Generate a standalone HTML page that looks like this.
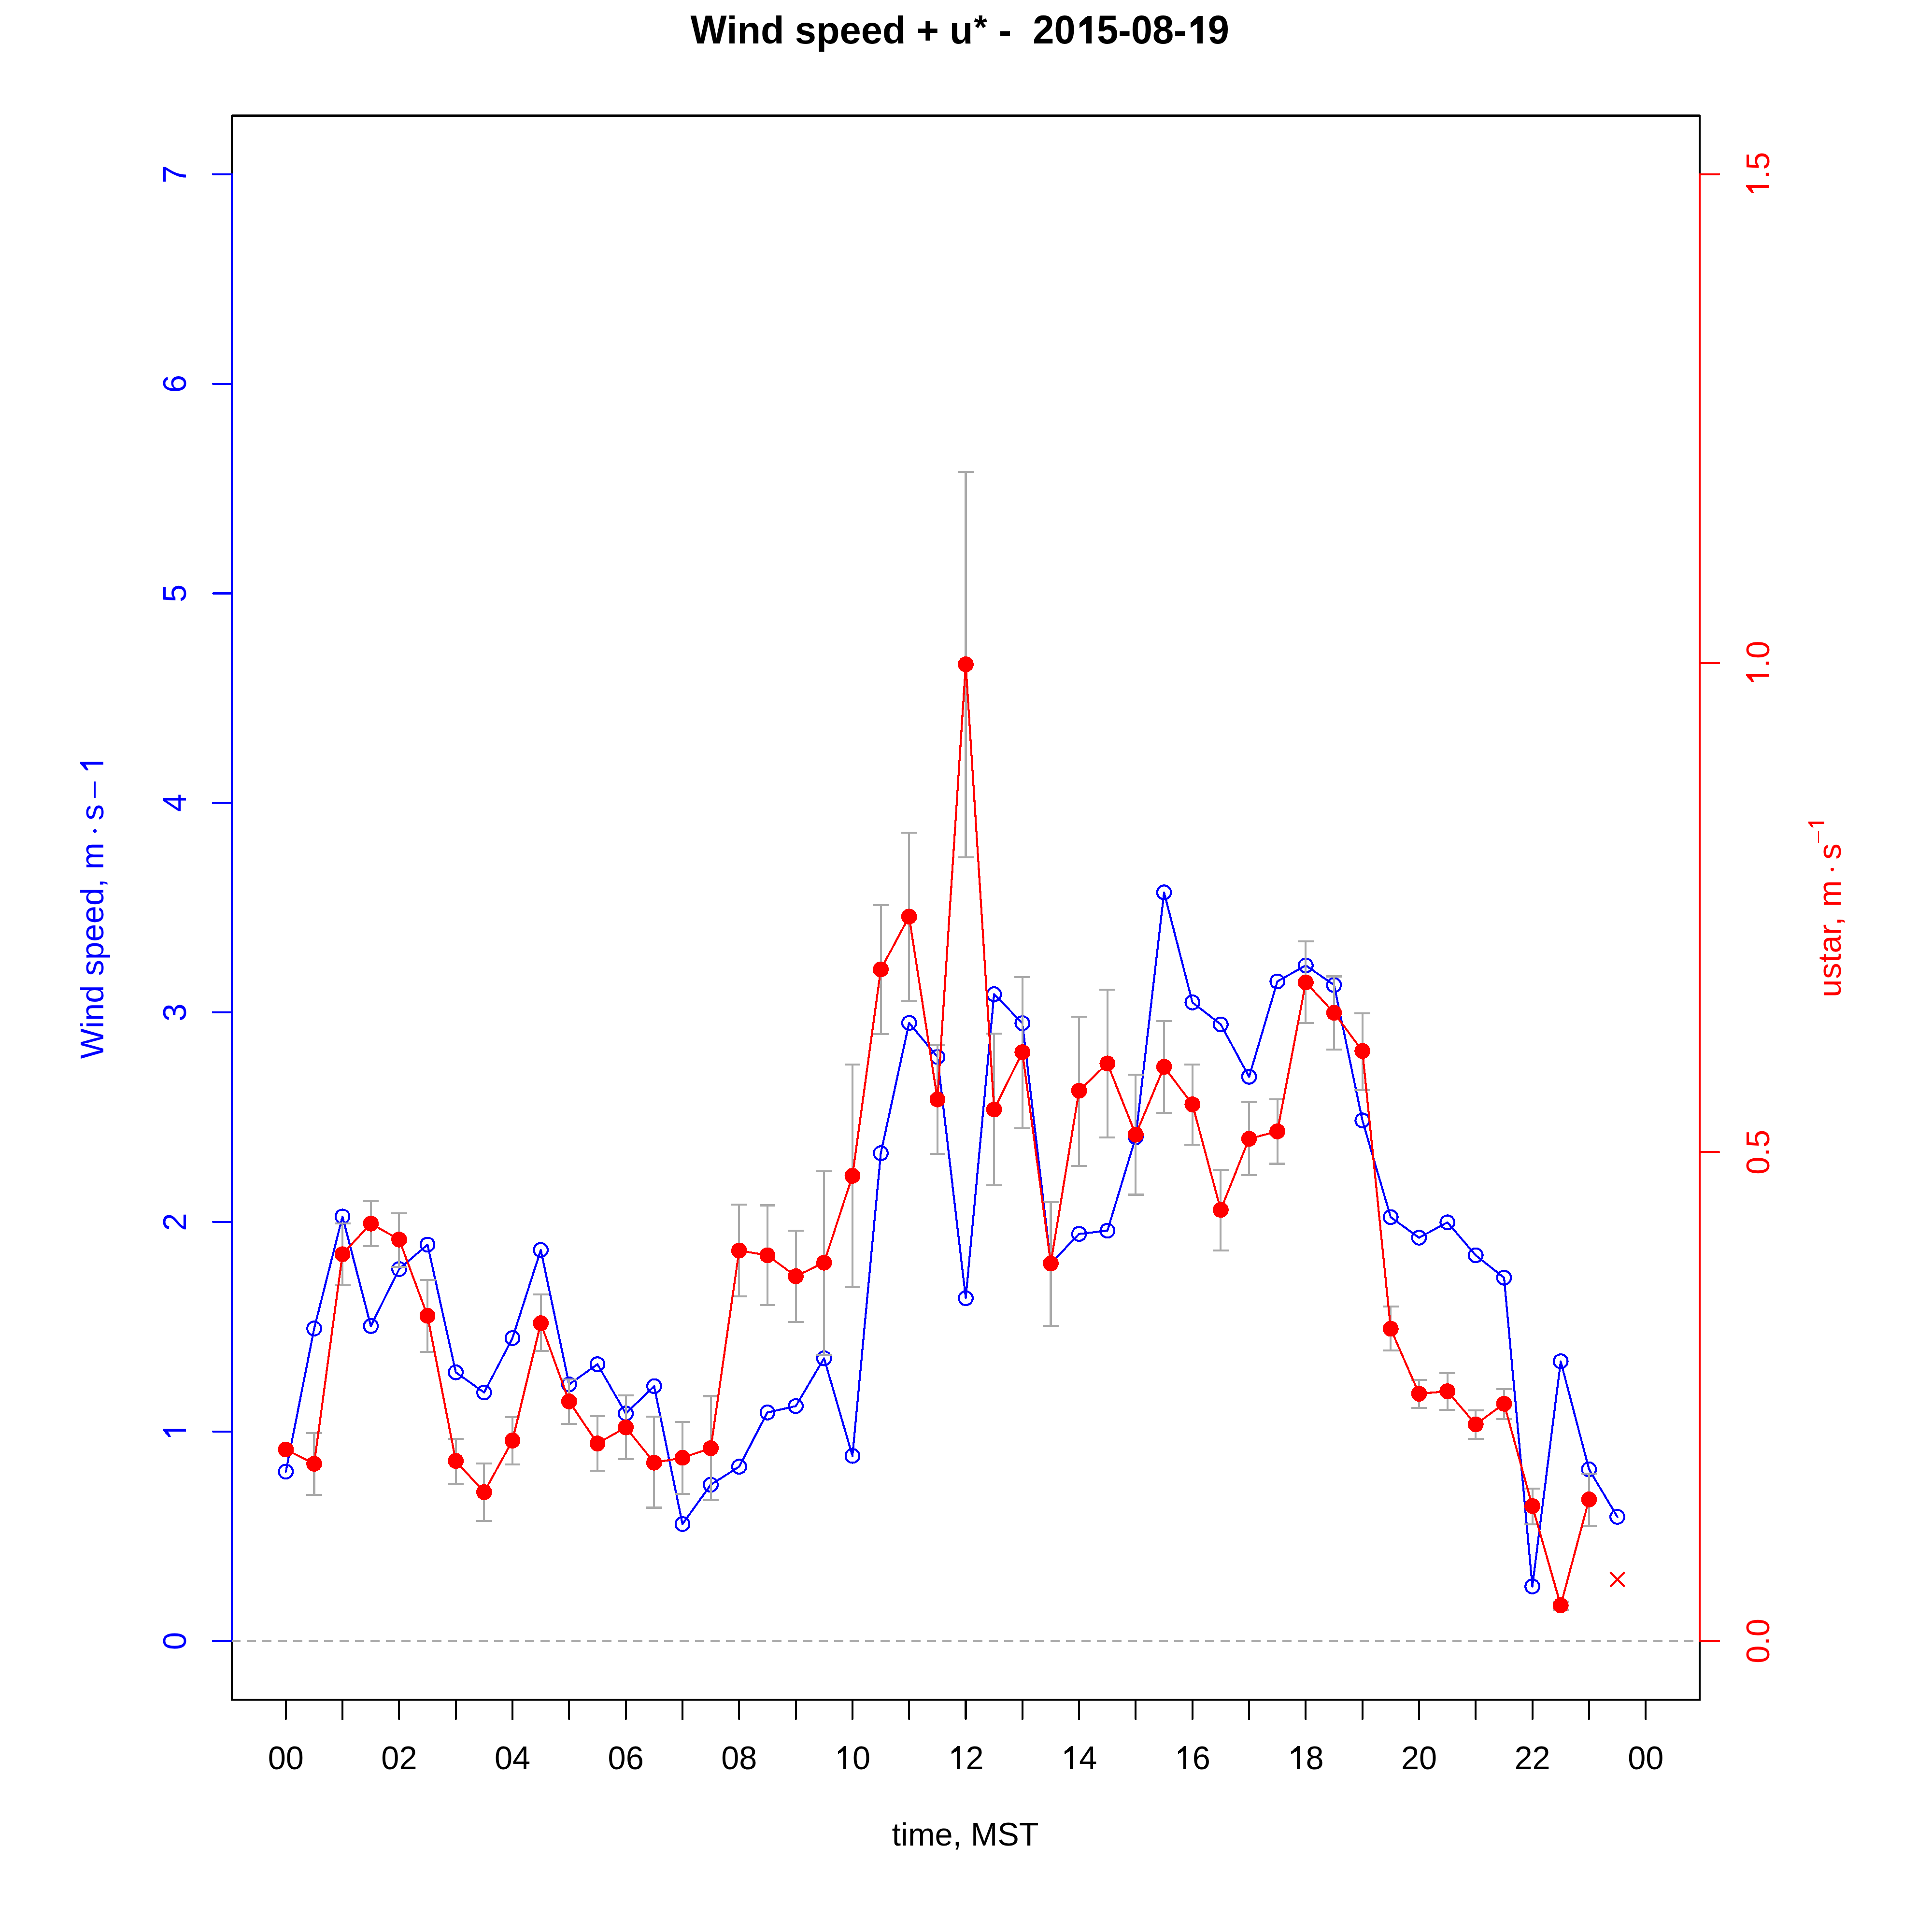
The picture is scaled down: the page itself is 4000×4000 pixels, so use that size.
<!DOCTYPE html>
<html><head><meta charset="utf-8"><title>Wind speed + u* - 2015-08-19</title><style>html,body{margin:0;padding:0;background:#fff;}svg{display:block;}text{font-family:"Liberation Sans",sans-serif;}</style></head><body>
<svg width="4000" height="4000" viewBox="0 0 4000 4000" shape-rendering="crispEdges">
<rect x="0" y="0" width="4000" height="4000" fill="#fff"/>
<g transform="translate(1429.50 90.10)" fill="#000"><text x="-0.08" y="0" transform="scale(1 1.04)" font-size="79.5" font-weight="bold" style="white-space:pre">W</text><text x="74.96" y="0" font-size="79.5" font-weight="bold" style="white-space:pre">ind speed + u</text><text x="585.19" y="0" transform="translate(600.73 -44.21) scale(0.88) translate(-600.73 39.91)" font-size="79.5" font-weight="bold" style="white-space:pre">*</text><text x="616.12" y="0" font-size="79.5" font-weight="bold" style="white-space:pre"> -  </text><text x="708.86" y="0" transform="scale(1 1.04)" font-size="79.5" font-weight="bold" style="white-space:pre">20</text><path transform="translate(797.29 0) scale(0.03882 -0.03882)" d="M856 0H571V1066L211 827V1110L627 1466H856Z"/><text x="841.50" y="0" transform="scale(1 1.04)" font-size="79.5" font-weight="bold" style="white-space:pre">5</text><text x="885.72" y="0" font-size="79.5" font-weight="bold" style="white-space:pre">-</text><text x="912.19" y="0" transform="scale(1 1.04)" font-size="79.5" font-weight="bold" style="white-space:pre">08</text><text x="1000.62" y="0" font-size="79.5" font-weight="bold" style="white-space:pre">-</text><path transform="translate(1027.09 0) scale(0.03882 -0.03882)" d="M856 0H571V1066L211 827V1110L627 1466H856Z"/><text x="1071.31" y="0" transform="scale(1 1.04)" font-size="79.5" font-weight="bold" style="white-space:pre">9</text></g>
<rect x="480" y="239.5" width="3039" height="3279.5" fill="none" stroke="#000" stroke-width="4.17" stroke-linejoin="round"/>
<path d="M591.8 3519V3559M709.1 3519V3559M826.4 3519V3559M943.7 3519V3559M1061.0 3519V3559M1178.3 3519V3559M1295.7 3519V3559M1413.0 3519V3559M1530.3 3519V3559M1647.6 3519V3559M1764.9 3519V3559M1882.2 3519V3559M1999.5 3519V3559M2116.8 3519V3559M2234.1 3519V3559M2351.4 3519V3559M2468.8 3519V3559M2586.1 3519V3559M2703.4 3519V3559M2820.7 3519V3559M2938.0 3519V3559M3055.3 3519V3559M3172.6 3519V3559M3289.9 3519V3559M3407.2 3519V3559" stroke="#000" stroke-width="4.17" stroke-linecap="round" fill="none"/>
<g transform="translate(591.80 3662.50)" fill="#000"><text x="-37.10" y="0" transform="scale(1 1.04)" font-size="66.7" style="white-space:pre">00</text></g>
<g transform="translate(826.42 3662.50)" fill="#000"><text x="-37.10" y="0" transform="scale(1 1.04)" font-size="66.7" style="white-space:pre">02</text></g>
<g transform="translate(1061.04 3662.50)" fill="#000"><text x="-37.10" y="0" transform="scale(1 1.04)" font-size="66.7" style="white-space:pre">04</text></g>
<g transform="translate(1295.66 3662.50)" fill="#000"><text x="-37.10" y="0" transform="scale(1 1.04)" font-size="66.7" style="white-space:pre">06</text></g>
<g transform="translate(1530.28 3662.50)" fill="#000"><text x="-37.10" y="0" transform="scale(1 1.04)" font-size="66.7" style="white-space:pre">08</text></g>
<g transform="translate(1764.90 3662.50)" fill="#000"><path transform="translate(-37.10 0) scale(0.03257 -0.03257)" d="M747 0H563V1135L219 940V1105L630 1466H747Z"/><text x="0.00" y="0" transform="scale(1 1.04)" font-size="66.7" style="white-space:pre">0</text></g>
<g transform="translate(1999.52 3662.50)" fill="#000"><path transform="translate(-37.10 0) scale(0.03257 -0.03257)" d="M747 0H563V1135L219 940V1105L630 1466H747Z"/><text x="0.00" y="0" transform="scale(1 1.04)" font-size="66.7" style="white-space:pre">2</text></g>
<g transform="translate(2234.14 3662.50)" fill="#000"><path transform="translate(-37.10 0) scale(0.03257 -0.03257)" d="M747 0H563V1135L219 940V1105L630 1466H747Z"/><text x="0.00" y="0" transform="scale(1 1.04)" font-size="66.7" style="white-space:pre">4</text></g>
<g transform="translate(2468.76 3662.50)" fill="#000"><path transform="translate(-37.10 0) scale(0.03257 -0.03257)" d="M747 0H563V1135L219 940V1105L630 1466H747Z"/><text x="0.00" y="0" transform="scale(1 1.04)" font-size="66.7" style="white-space:pre">6</text></g>
<g transform="translate(2703.38 3662.50)" fill="#000"><path transform="translate(-37.10 0) scale(0.03257 -0.03257)" d="M747 0H563V1135L219 940V1105L630 1466H747Z"/><text x="0.00" y="0" transform="scale(1 1.04)" font-size="66.7" style="white-space:pre">8</text></g>
<g transform="translate(2938.00 3662.50)" fill="#000"><text x="-37.10" y="0" transform="scale(1 1.04)" font-size="66.7" style="white-space:pre">20</text></g>
<g transform="translate(3172.62 3662.50)" fill="#000"><text x="-37.10" y="0" transform="scale(1 1.04)" font-size="66.7" style="white-space:pre">22</text></g>
<g transform="translate(3407.24 3662.50)" fill="#000"><text x="-37.10" y="0" transform="scale(1 1.04)" font-size="66.7" style="white-space:pre">00</text></g>
<g transform="translate(1998.50 3821.00)" fill="#000"><text x="-151.93" y="0" font-size="66.7" style="white-space:pre">time, </text><text x="11.14" y="0" transform="scale(1 1.04)" font-size="66.7" style="white-space:pre">MST</text></g>
<path d="M480 3397.5V360.9M480 3397.5H441M480 2963.7H441M480 2529.9H441M480 2096.1H441M480 1662.3H441M480 1228.5H441M480 794.7H441M480 360.9H441" stroke="#0000FF" stroke-width="4.17" stroke-linecap="round" fill="none"/>
<g transform="translate(385.00 3397.50) rotate(-90)" fill="#0000FF"><text x="-18.55" y="0" transform="scale(1 1.04)" font-size="66.7" style="white-space:pre">0</text></g>
<g transform="translate(385.00 2963.70) rotate(-90)" fill="#0000FF"><path transform="translate(-18.55 0) scale(0.03257 -0.03257)" d="M747 0H563V1135L219 940V1105L630 1466H747Z"/></g>
<g transform="translate(385.00 2529.90) rotate(-90)" fill="#0000FF"><text x="-18.55" y="0" transform="scale(1 1.04)" font-size="66.7" style="white-space:pre">2</text></g>
<g transform="translate(385.00 2096.10) rotate(-90)" fill="#0000FF"><text x="-18.55" y="0" transform="scale(1 1.04)" font-size="66.7" style="white-space:pre">3</text></g>
<g transform="translate(385.00 1662.30) rotate(-90)" fill="#0000FF"><text x="-18.55" y="0" transform="scale(1 1.04)" font-size="66.7" style="white-space:pre">4</text></g>
<g transform="translate(385.00 1228.50) rotate(-90)" fill="#0000FF"><text x="-18.55" y="0" transform="scale(1 1.04)" font-size="66.7" style="white-space:pre">5</text></g>
<g transform="translate(385.00 794.70) rotate(-90)" fill="#0000FF"><text x="-18.55" y="0" transform="scale(1 1.04)" font-size="66.7" style="white-space:pre">6</text></g>
<g transform="translate(385.00 360.90) rotate(-90)" fill="#0000FF"><text x="-18.55" y="0" transform="scale(1 1.04)" font-size="66.7" style="white-space:pre">7</text></g>
<path d="M3519 3397.5V360.9M3519 3397.5H3559M3519 2385.3H3559M3519 1373.1H3559M3519 360.9H3559" stroke="#FF0000" stroke-width="4.17" stroke-linecap="round" fill="none"/>
<g transform="translate(3663.00 3397.50) rotate(-90)" fill="#FF0000"><text x="-46.36" y="0" transform="scale(1 1.04)" font-size="66.7" style="white-space:pre">0</text><text x="-9.27" y="0" font-size="66.7" style="white-space:pre">.</text><text x="9.27" y="0" transform="scale(1 1.04)" font-size="66.7" style="white-space:pre">0</text></g>
<g transform="translate(3663.00 2385.30) rotate(-90)" fill="#FF0000"><text x="-46.36" y="0" transform="scale(1 1.04)" font-size="66.7" style="white-space:pre">0</text><text x="-9.27" y="0" font-size="66.7" style="white-space:pre">.</text><text x="9.27" y="0" transform="scale(1 1.04)" font-size="66.7" style="white-space:pre">5</text></g>
<g transform="translate(3663.00 1373.10) rotate(-90)" fill="#FF0000"><path transform="translate(-46.36 0) scale(0.03257 -0.03257)" d="M747 0H563V1135L219 940V1105L630 1466H747Z"/><text x="-9.27" y="0" font-size="66.7" style="white-space:pre">.</text><text x="9.27" y="0" transform="scale(1 1.04)" font-size="66.7" style="white-space:pre">0</text></g>
<g transform="translate(3663.00 360.90) rotate(-90)" fill="#FF0000"><path transform="translate(-46.36 0) scale(0.03257 -0.03257)" d="M747 0H563V1135L219 940V1105L630 1466H747Z"/><text x="-9.27" y="0" font-size="66.7" style="white-space:pre">.</text><text x="9.27" y="0" transform="scale(1 1.04)" font-size="66.7" style="white-space:pre">5</text></g>
<line x1="480" y1="3398" x2="3519" y2="3398" stroke="#A9A9A9" stroke-width="4.17" stroke-dasharray="18.7 13.3" stroke-dashoffset="0.9"/>
<g transform="translate(214 2192) rotate(-90)" fill="#0000FF">
<g transform="translate(0.00 0.00)" fill="#0000FF"><text x="-0.29" y="0" transform="scale(1 1.04)" font-size="66.7" letter-spacing="0.25" style="white-space:pre">W</text><text x="62.91" y="0" font-size="66.7" letter-spacing="0.25" style="white-space:pre">ind speed, m</text></g>
<circle cx="471.8" cy="-17.6" r="3.6"/>
<g transform="translate(495.40 0.00)" fill="#0000FF"><text x="-1.86" y="0" font-size="66.7" style="white-space:pre">s</text></g>
<rect x="540.4" y="-19" width="33.6" height="3"/>
<g transform="translate(595.30 0.00)" fill="#0000FF"><path transform="translate(-5.08 0) scale(0.03257 -0.03257)" d="M747 0H563V1135L219 940V1105L630 1466H747Z"/></g>
</g>
<g transform="translate(3811 2060.3) rotate(-90)" fill="#FF0000">
<g transform="translate(0.00 0.00)" fill="#FF0000"><text x="-4.33" y="0" font-size="66.7" letter-spacing="0.73" style="white-space:pre">ustar, m</text></g>
<circle cx="260.1" cy="-17.5" r="3.6"/>
<g transform="translate(282.30 0.00)" fill="#FF0000"><text x="-1.86" y="0" font-size="66.7" style="white-space:pre">s</text></g>
<rect x="315.4" y="-47.4" width="24.1" height="2.5"/>
<g transform="translate(345.50 -34.00)" fill="#FF0000"><path transform="translate(-3.56 0) scale(0.02280 -0.02280)" d="M747 0H563V1135L219 940V1105L630 1466H747Z"/></g>
</g>
<polyline points="591.8,3046.9 650.5,2750.6 709.1,2518.8 767.8,2745.4 826.4,2627.5 885.1,2576.9 943.7,2841.3 1002.4,2883.0 1061.0,2770.4 1119.7,2587.9 1178.3,2866.3 1237.0,2824.5 1295.7,2926.6 1354.3,2869.9 1413.0,3155.4 1471.6,3074.0 1530.3,3036.6 1588.9,2924.4 1647.6,2911.2 1706.2,2812.2 1764.9,3014.2 1823.6,2387.6 1882.2,2117.9 1940.9,2188.3 1999.5,2687.8 2058.2,2058.4 2116.8,2118.4 2175.5,2615.8 2234.1,2554.8 2292.8,2548.0 2351.4,2354.5 2410.1,1847.6 2468.8,2075.4 2527.4,2120.9 2586.1,2229.4 2644.7,2031.9 2703.4,1998.8 2762.0,2039.3 2820.7,2319.7 2879.3,2520.0 2938.0,2562.5 2996.7,2530.7 3055.3,2599.0 3114.0,2645.4 3172.6,3284.6 3231.3,2818.5 3289.9,3042.1 3348.6,3140.5" fill="none" stroke="#0000FF" stroke-width="4.17" stroke-linejoin="round" stroke-linecap="round"/>
<circle cx="591.8" cy="3046.9" r="14.3" fill="none" stroke="#0000FF" stroke-width="4.17"/>
<circle cx="650.5" cy="2750.6" r="14.3" fill="none" stroke="#0000FF" stroke-width="4.17"/>
<circle cx="709.1" cy="2518.8" r="14.3" fill="none" stroke="#0000FF" stroke-width="4.17"/>
<circle cx="767.8" cy="2745.4" r="14.3" fill="none" stroke="#0000FF" stroke-width="4.17"/>
<circle cx="826.4" cy="2627.5" r="14.3" fill="none" stroke="#0000FF" stroke-width="4.17"/>
<circle cx="885.1" cy="2576.9" r="14.3" fill="none" stroke="#0000FF" stroke-width="4.17"/>
<circle cx="943.7" cy="2841.3" r="14.3" fill="none" stroke="#0000FF" stroke-width="4.17"/>
<circle cx="1002.4" cy="2883.0" r="14.3" fill="none" stroke="#0000FF" stroke-width="4.17"/>
<circle cx="1061.0" cy="2770.4" r="14.3" fill="none" stroke="#0000FF" stroke-width="4.17"/>
<circle cx="1119.7" cy="2587.9" r="14.3" fill="none" stroke="#0000FF" stroke-width="4.17"/>
<circle cx="1178.3" cy="2866.3" r="14.3" fill="none" stroke="#0000FF" stroke-width="4.17"/>
<circle cx="1237.0" cy="2824.5" r="14.3" fill="none" stroke="#0000FF" stroke-width="4.17"/>
<circle cx="1295.7" cy="2926.6" r="14.3" fill="none" stroke="#0000FF" stroke-width="4.17"/>
<circle cx="1354.3" cy="2869.9" r="14.3" fill="none" stroke="#0000FF" stroke-width="4.17"/>
<circle cx="1413.0" cy="3155.4" r="14.3" fill="none" stroke="#0000FF" stroke-width="4.17"/>
<circle cx="1471.6" cy="3074.0" r="14.3" fill="none" stroke="#0000FF" stroke-width="4.17"/>
<circle cx="1530.3" cy="3036.6" r="14.3" fill="none" stroke="#0000FF" stroke-width="4.17"/>
<circle cx="1588.9" cy="2924.4" r="14.3" fill="none" stroke="#0000FF" stroke-width="4.17"/>
<circle cx="1647.6" cy="2911.2" r="14.3" fill="none" stroke="#0000FF" stroke-width="4.17"/>
<circle cx="1706.2" cy="2812.2" r="14.3" fill="none" stroke="#0000FF" stroke-width="4.17"/>
<circle cx="1764.9" cy="3014.2" r="14.3" fill="none" stroke="#0000FF" stroke-width="4.17"/>
<circle cx="1823.6" cy="2387.6" r="14.3" fill="none" stroke="#0000FF" stroke-width="4.17"/>
<circle cx="1882.2" cy="2117.9" r="14.3" fill="none" stroke="#0000FF" stroke-width="4.17"/>
<circle cx="1940.9" cy="2188.3" r="14.3" fill="none" stroke="#0000FF" stroke-width="4.17"/>
<circle cx="1999.5" cy="2687.8" r="14.3" fill="none" stroke="#0000FF" stroke-width="4.17"/>
<circle cx="2058.2" cy="2058.4" r="14.3" fill="none" stroke="#0000FF" stroke-width="4.17"/>
<circle cx="2116.8" cy="2118.4" r="14.3" fill="none" stroke="#0000FF" stroke-width="4.17"/>
<circle cx="2175.5" cy="2615.8" r="14.3" fill="none" stroke="#0000FF" stroke-width="4.17"/>
<circle cx="2234.1" cy="2554.8" r="14.3" fill="none" stroke="#0000FF" stroke-width="4.17"/>
<circle cx="2292.8" cy="2548.0" r="14.3" fill="none" stroke="#0000FF" stroke-width="4.17"/>
<circle cx="2351.4" cy="2354.5" r="14.3" fill="none" stroke="#0000FF" stroke-width="4.17"/>
<circle cx="2410.1" cy="1847.6" r="14.3" fill="none" stroke="#0000FF" stroke-width="4.17"/>
<circle cx="2468.8" cy="2075.4" r="14.3" fill="none" stroke="#0000FF" stroke-width="4.17"/>
<circle cx="2527.4" cy="2120.9" r="14.3" fill="none" stroke="#0000FF" stroke-width="4.17"/>
<circle cx="2586.1" cy="2229.4" r="14.3" fill="none" stroke="#0000FF" stroke-width="4.17"/>
<circle cx="2644.7" cy="2031.9" r="14.3" fill="none" stroke="#0000FF" stroke-width="4.17"/>
<circle cx="2703.4" cy="1998.8" r="14.3" fill="none" stroke="#0000FF" stroke-width="4.17"/>
<circle cx="2762.0" cy="2039.3" r="14.3" fill="none" stroke="#0000FF" stroke-width="4.17"/>
<circle cx="2820.7" cy="2319.7" r="14.3" fill="none" stroke="#0000FF" stroke-width="4.17"/>
<circle cx="2879.3" cy="2520.0" r="14.3" fill="none" stroke="#0000FF" stroke-width="4.17"/>
<circle cx="2938.0" cy="2562.5" r="14.3" fill="none" stroke="#0000FF" stroke-width="4.17"/>
<circle cx="2996.7" cy="2530.7" r="14.3" fill="none" stroke="#0000FF" stroke-width="4.17"/>
<circle cx="3055.3" cy="2599.0" r="14.3" fill="none" stroke="#0000FF" stroke-width="4.17"/>
<circle cx="3114.0" cy="2645.4" r="14.3" fill="none" stroke="#0000FF" stroke-width="4.17"/>
<circle cx="3172.6" cy="3284.6" r="14.3" fill="none" stroke="#0000FF" stroke-width="4.17"/>
<circle cx="3231.3" cy="2818.5" r="14.3" fill="none" stroke="#0000FF" stroke-width="4.17"/>
<circle cx="3289.9" cy="3042.1" r="14.3" fill="none" stroke="#0000FF" stroke-width="4.17"/>
<circle cx="3348.6" cy="3140.5" r="14.3" fill="none" stroke="#0000FF" stroke-width="4.17"/>
<path d="M650.5 2967.0V3095.0M634.1 2967.0H666.9M634.1 3095.0H666.9M709.1 2533.3V2660.9M692.7 2533.3H725.5M692.7 2660.9H725.5M767.8 2486.7V2580.4M751.4 2486.7H784.2M751.4 2580.4H784.2M826.4 2512.2V2623.0M810.0 2512.2H842.8M810.0 2623.0H842.8M885.1 2649.9V2798.6M868.7 2649.9H901.5M868.7 2798.6H901.5M943.7 2979.0V3071.8M927.3 2979.0H960.1M927.3 3071.8H960.1M1002.4 3030.0V3148.8M986.0 3030.0H1018.8M986.0 3148.8H1018.8M1061.0 2933.7V3031.8M1044.6 2933.7H1077.4M1044.6 3031.8H1077.4M1119.7 2680.2V2797.3M1103.3 2680.2H1136.1M1103.3 2797.3H1136.1M1178.3 2856.2V2947.7M1161.9 2856.2H1194.8M1161.9 2947.7H1194.8M1237.0 2932.3V3045.0M1220.6 2932.3H1253.4M1220.6 3045.0H1253.4M1295.7 2889.2V3020.8M1279.3 2889.2H1312.1M1279.3 3020.8H1312.1M1354.3 2932.8V3121.5M1337.9 2932.8H1370.7M1337.9 3121.5H1370.7M1413.0 2944.2V3093.0M1396.6 2944.2H1429.4M1396.6 3093.0H1429.4M1471.6 2890.5V3105.7M1455.2 2890.5H1488.0M1455.2 3105.7H1488.0M1530.3 2493.7V2683.8M1513.9 2493.7H1546.7M1513.9 2683.8H1546.7M1588.9 2495.5V2701.8M1572.5 2495.5H1605.3M1572.5 2701.8H1605.3M1647.6 2548.3V2737.0M1631.2 2548.3H1664.0M1631.2 2737.0H1664.0M1706.2 2425.0V2804.7M1689.8 2425.0H1722.6M1689.8 2804.7H1722.6M1764.9 2204.3V2664.5M1748.5 2204.3H1781.3M1748.5 2664.5H1781.3M1823.6 1873.9V2141.2M1807.2 1873.9H1840.0M1807.2 2141.2H1840.0M1882.2 1723.9V2073.4M1865.8 1723.9H1898.6M1865.8 2073.4H1898.6M1940.9 2164.0V2389.1M1924.5 2164.0H1957.3M1924.5 2389.1H1957.3M1999.5 977.2V1775.0M1983.1 977.2H2015.9M1983.1 1775.0H2015.9M2058.2 2139.6V2453.8M2041.8 2139.6H2074.6M2041.8 2453.8H2074.6M2116.8 2023.2V2335.8M2100.4 2023.2H2133.2M2100.4 2335.8H2133.2M2175.5 2489.0V2744.7M2159.1 2489.0H2191.9M2159.1 2744.7H2191.9M2234.1 2105.0V2414.0M2217.7 2105.0H2250.5M2217.7 2414.0H2250.5M2292.8 2049.0V2355.0M2276.4 2049.0H2309.2M2276.4 2355.0H2309.2M2351.4 2225.0V2473.5M2335.0 2225.0H2367.8M2335.0 2473.5H2367.8M2410.1 2113.9V2303.9M2393.7 2113.9H2426.5M2393.7 2303.9H2426.5M2468.8 2203.7V2370.2M2452.4 2203.7H2485.2M2452.4 2370.2H2485.2M2527.4 2421.9V2588.8M2511.0 2421.9H2543.8M2511.0 2588.8H2543.8M2586.1 2282.4V2432.7M2569.7 2282.4H2602.5M2569.7 2432.7H2602.5M2644.7 2276.2V2409.5M2628.3 2276.2H2661.1M2628.3 2409.5H2661.1M2703.4 1949.1V2118.0M2687.0 1949.1H2719.8M2687.0 2118.0H2719.8M2762.0 2021.5V2172.7M2745.6 2021.5H2778.4M2745.6 2172.7H2778.4M2820.7 2098.1V2256.7M2804.3 2098.1H2837.1M2804.3 2256.7H2837.1M2879.3 2704.7V2795.8M2862.9 2704.7H2895.7M2862.9 2795.8H2895.7M2938.0 2857.0V2914.6M2921.6 2857.0H2954.4M2921.6 2914.6H2954.4M2996.7 2843.4V2918.7M2980.3 2843.4H3013.1M2980.3 2918.7H3013.1M3055.3 2920.0V2978.8M3038.9 2920.0H3071.7M3038.9 2978.8H3071.7M3114.0 2875.7V2937.8M3097.6 2875.7H3130.4M3097.6 2937.8H3130.4M3172.6 3081.7V3156.2M3156.2 3081.7H3189.0M3156.2 3156.2H3189.0M3231.3 3315.6V3332.6M3214.9 3315.6H3247.7M3214.9 3332.6H3247.7M3289.9 3051.2V3159.0M3273.5 3051.2H3306.3M3273.5 3159.0H3306.3" stroke="#A9A9A9" stroke-width="4.17" fill="none"/>
<polyline points="591.8,3001.0 650.5,3030.6 709.1,2596.7 767.8,2533.3 826.4,2566.3 885.1,2724.2 943.7,3024.7 1002.4,3089.4 1061.0,2982.5 1119.7,2739.6 1178.3,2901.5 1237.0,2988.6 1295.7,2955.2 1354.3,3028.3 1413.0,3018.1 1471.6,2998.3 1530.3,2589.2 1588.9,2598.9 1647.6,2642.4 1706.2,2614.3 1764.9,2434.5 1823.6,2007.1 1882.2,1897.8 1940.9,2276.3 1999.5,1375.5 2058.2,2297.0 2116.8,2178.5 2175.5,2615.8 2234.1,2258.2 2292.8,2201.8 2351.4,2349.3 2410.1,2208.8 2468.8,2286.5 2527.4,2504.8 2586.1,2357.8 2644.7,2342.4 2703.4,2034.0 2762.0,2096.9 2820.7,2176.0 2879.3,2751.0 2938.0,2885.6 2996.7,2880.6 3055.3,2949.0 3114.0,2906.3 3172.6,3118.2 3231.3,3323.7 3289.9,3104.5" fill="none" stroke="#FF0000" stroke-width="4.17" stroke-linejoin="round" stroke-linecap="round"/>
<circle cx="591.8" cy="3001.0" r="16.4" fill="#FF0000"/>
<circle cx="650.5" cy="3030.6" r="16.4" fill="#FF0000"/>
<circle cx="709.1" cy="2596.7" r="16.4" fill="#FF0000"/>
<circle cx="767.8" cy="2533.3" r="16.4" fill="#FF0000"/>
<circle cx="826.4" cy="2566.3" r="16.4" fill="#FF0000"/>
<circle cx="885.1" cy="2724.2" r="16.4" fill="#FF0000"/>
<circle cx="943.7" cy="3024.7" r="16.4" fill="#FF0000"/>
<circle cx="1002.4" cy="3089.4" r="16.4" fill="#FF0000"/>
<circle cx="1061.0" cy="2982.5" r="16.4" fill="#FF0000"/>
<circle cx="1119.7" cy="2739.6" r="16.4" fill="#FF0000"/>
<circle cx="1178.3" cy="2901.5" r="16.4" fill="#FF0000"/>
<circle cx="1237.0" cy="2988.6" r="16.4" fill="#FF0000"/>
<circle cx="1295.7" cy="2955.2" r="16.4" fill="#FF0000"/>
<circle cx="1354.3" cy="3028.3" r="16.4" fill="#FF0000"/>
<circle cx="1413.0" cy="3018.1" r="16.4" fill="#FF0000"/>
<circle cx="1471.6" cy="2998.3" r="16.4" fill="#FF0000"/>
<circle cx="1530.3" cy="2589.2" r="16.4" fill="#FF0000"/>
<circle cx="1588.9" cy="2598.9" r="16.4" fill="#FF0000"/>
<circle cx="1647.6" cy="2642.4" r="16.4" fill="#FF0000"/>
<circle cx="1706.2" cy="2614.3" r="16.4" fill="#FF0000"/>
<circle cx="1764.9" cy="2434.5" r="16.4" fill="#FF0000"/>
<circle cx="1823.6" cy="2007.1" r="16.4" fill="#FF0000"/>
<circle cx="1882.2" cy="1897.8" r="16.4" fill="#FF0000"/>
<circle cx="1940.9" cy="2276.3" r="16.4" fill="#FF0000"/>
<circle cx="1999.5" cy="1375.5" r="16.4" fill="#FF0000"/>
<circle cx="2058.2" cy="2297.0" r="16.4" fill="#FF0000"/>
<circle cx="2116.8" cy="2178.5" r="16.4" fill="#FF0000"/>
<circle cx="2175.5" cy="2615.8" r="16.4" fill="#FF0000"/>
<circle cx="2234.1" cy="2258.2" r="16.4" fill="#FF0000"/>
<circle cx="2292.8" cy="2201.8" r="16.4" fill="#FF0000"/>
<circle cx="2351.4" cy="2349.3" r="16.4" fill="#FF0000"/>
<circle cx="2410.1" cy="2208.8" r="16.4" fill="#FF0000"/>
<circle cx="2468.8" cy="2286.5" r="16.4" fill="#FF0000"/>
<circle cx="2527.4" cy="2504.8" r="16.4" fill="#FF0000"/>
<circle cx="2586.1" cy="2357.8" r="16.4" fill="#FF0000"/>
<circle cx="2644.7" cy="2342.4" r="16.4" fill="#FF0000"/>
<circle cx="2703.4" cy="2034.0" r="16.4" fill="#FF0000"/>
<circle cx="2762.0" cy="2096.9" r="16.4" fill="#FF0000"/>
<circle cx="2820.7" cy="2176.0" r="16.4" fill="#FF0000"/>
<circle cx="2879.3" cy="2751.0" r="16.4" fill="#FF0000"/>
<circle cx="2938.0" cy="2885.6" r="16.4" fill="#FF0000"/>
<circle cx="2996.7" cy="2880.6" r="16.4" fill="#FF0000"/>
<circle cx="3055.3" cy="2949.0" r="16.4" fill="#FF0000"/>
<circle cx="3114.0" cy="2906.3" r="16.4" fill="#FF0000"/>
<circle cx="3172.6" cy="3118.2" r="16.4" fill="#FF0000"/>
<circle cx="3231.3" cy="3323.7" r="16.4" fill="#FF0000"/>
<circle cx="3289.9" cy="3104.5" r="16.4" fill="#FF0000"/>
<path d="M3333.6 3254.9L3363.6 3284.9M3333.6 3284.9L3363.6 3254.9" stroke="#FF0000" stroke-width="4.17" fill="none"/>
</svg></body></html>
